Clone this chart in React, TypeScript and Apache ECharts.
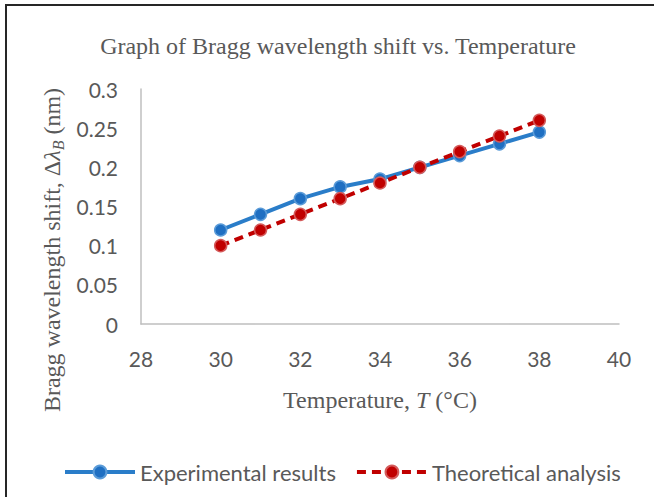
import React, { useEffect, useRef } from "react";
import * as echarts from "echarts";

const temperatures = [30, 31, 32, 33, 34, 35, 36, 37, 38];
const experimental = [0.12, 0.14, 0.16, 0.175, 0.185, 0.2, 0.215, 0.23, 0.245];
const theoretical = [0.1, 0.12, 0.14, 0.16, 0.18, 0.2, 0.22, 0.24, 0.26];
const seriesNames = ["Experimental results", "Theoretical analysis"];
const titleText = "Graph of Bragg wavelength shift vs. Temperature";
const xAxisTitle = "{a|Temperature, }{i|T}{a| (°C)}";
const yAxisTitle = "{a|Bragg wavelength shift, Δ}{i|λ}{s|B}{a| (nm)}";

const serif = "'Liberation Serif', 'Times New Roman', serif";
const sans = "Lato, 'Open Sans', sans-serif";
const gray = "#595959";

const serifRich = {
  a: { fontFamily: serif, fontSize: 24, color: gray },
  i: { fontFamily: serif, fontSize: 24, color: gray, fontStyle: "italic" },
  s: { fontFamily: serif, fontSize: 16, color: gray, fontStyle: "italic", padding: [12, 0, 0, 0] },
};

const graphicRich = {
  a: { fontFamily: serif, fontSize: 24, fill: gray },
  i: { fontFamily: serif, fontSize: 24, fill: gray, fontStyle: "italic" },
  s: { fontFamily: serif, fontSize: 16, fill: gray, fontStyle: "italic", padding: [12, 0, 0, 0] },
};

export default function App() {
  const ref = useRef<HTMLDivElement>(null);
  useEffect(() => {
    if (!ref.current) return;
    const chart = echarts.init(ref.current, null, { renderer: "svg" });
    const pair = (ys: number[]) => temperatures.map((t, i) => [t, ys[i]]);
    chart.setOption({
      animation: false,
      backgroundColor: "#ffffff",
      title: {
        text: titleText,
        left: 333,
        textAlign: "center",
        top: 29,
        textStyle: { fontFamily: serif, fontSize: 24, fontWeight: "normal", color: gray },
      },
      grid: { left: 141, right: 35, top: 89, bottom: 173, containLabel: false },
      xAxis: {
        type: "value",
        min: 28,
        max: 40,
        interval: 2,
        name: xAxisTitle,
        nameLocation: "middle",
        nameGap: 64,
        nameTextStyle: { rich: serifRich },
        axisLine: { show: true, lineStyle: { color: "#BFBFBF", width: 1.5 } },
        axisTick: { show: false },
        splitLine: { show: false },
        axisLabel: { color: gray, fontFamily: sans, fontSize: 21, margin: 24 },
      },
      yAxis: {
        type: "value",
        min: 0,
        max: 0.3,
        interval: 0.05,
        axisLine: { show: true, lineStyle: { color: "#BFBFBF", width: 1.5 } },
        axisTick: { show: false },
        splitLine: { show: false },
        axisLabel: {
          color: gray,
          fontFamily: sans,
          fontSize: 21,
          margin: 23,
          formatter: (v: number) => String(+v.toFixed(2)),
        },
      },
      legend: {
        bottom: 9,
        left: 58,
        itemWidth: 70,
        itemHeight: 16,
        itemGap: 19,
        lineStyle: { width: 4 },
        textStyle: { color: gray, fontFamily: sans, fontSize: 22 },
        data: seriesNames,
      },
      series: [
        {
          name: seriesNames[0],
          type: "line",
          data: pair(experimental),
          symbol: "circle",
          symbolSize: 12,
          lineStyle: { color: "#2A7DC9", width: 4 },
          itemStyle: { color: "#1F6FC2", borderColor: "#5A9BD8", borderWidth: 1.5 },
        },
        {
          name: seriesNames[1],
          type: "line",
          data: pair(theoretical),
          symbol: "circle",
          symbolSize: 12,
          lineStyle: { color: "#C00000", width: 4, type: [9, 6] },
          itemStyle: { color: "#C00000", borderColor: "#D45A5A", borderWidth: 1.5 },
        },
      ],
      graphic: [
        { type: "line", shape: { x1: 6, y1: 5, x2: 6, y2: 497 }, style: { stroke: "#262626", lineWidth: 2 } },
        { type: "line", shape: { x1: 5, y1: 5, x2: 654, y2: 5 }, style: { stroke: "#262626", lineWidth: 2 } },
        {
          type: "text",
          x: 52,
          y: 250,
          rotation: Math.PI / 2,
          style: {
            text: yAxisTitle,
            rich: graphicRich,
            fill: gray,
            align: "center",
            verticalAlign: "middle",
          },
        },
      ],
    });
    return () => chart.dispose();
  }, []);
  return (
    <div
      ref={ref}
      style={{ position: "absolute", left: 0, top: 0, width: 654, height: 497 }}
    />
  );
}
